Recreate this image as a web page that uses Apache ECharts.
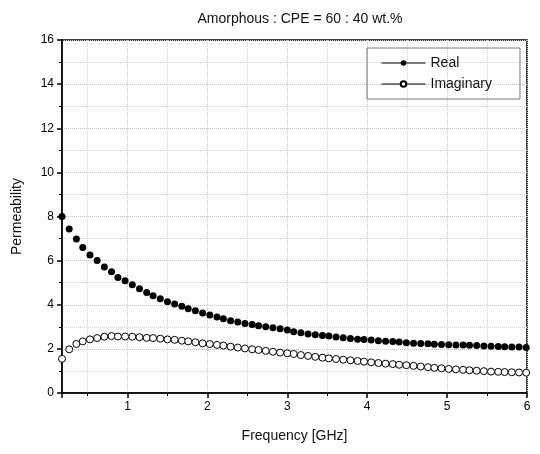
<!DOCTYPE html>
<html>
<head>
<meta charset="utf-8">
<script src="https://cdn.jsdelivr.net/npm/echarts@6/dist/echarts.min.js"></script>
<style>
    html, body { margin: 0; padding: 0; background: #fff; }
    #chart { width: 540px; height: 454px; }
</style>
</head>
<body>
<div id="chart"></div>
<script>
// frequency points in GHz
var freq = [0.18, 0.27, 0.36, 0.44, 0.53, 0.62, 0.71, 0.80, 0.88, 0.97,
    1.06, 1.15, 1.24, 1.32, 1.41, 1.50, 1.59, 1.68, 1.76, 1.85,
    1.94, 2.03, 2.12, 2.20, 2.29, 2.38, 2.47, 2.56, 2.64, 2.73,
    2.82, 2.91, 3.00, 3.08, 3.17, 3.26, 3.35, 3.44, 3.52, 3.61,
    3.70, 3.79, 3.88, 3.96, 4.05, 4.14, 4.23, 4.32, 4.40, 4.49,
    4.58, 4.67, 4.76, 4.84, 4.93, 5.02, 5.11, 5.20, 5.28, 5.37,
    5.46, 5.55, 5.64, 5.72, 5.81, 5.90, 5.99];

var realPart = [8.00, 7.43, 6.98, 6.59, 6.26, 6.01, 5.71, 5.50, 5.23, 5.09,
    4.91, 4.73, 4.55, 4.41, 4.27, 4.14, 4.03, 3.93, 3.82, 3.73,
    3.63, 3.54, 3.45, 3.37, 3.28, 3.22, 3.15, 3.10, 3.05, 3.00,
    2.96, 2.91, 2.86, 2.78, 2.73, 2.67, 2.64, 2.61, 2.58, 2.54,
    2.50, 2.47, 2.44, 2.42, 2.40, 2.37, 2.35, 2.33, 2.31, 2.28,
    2.26, 2.24, 2.23, 2.21, 2.20, 2.19, 2.18, 2.17, 2.16, 2.15,
    2.13, 2.12, 2.11, 2.10, 2.09, 2.08, 2.06];

var imagPart = [1.55, 1.98, 2.22, 2.34, 2.43, 2.49, 2.55, 2.58, 2.56, 2.56,
    2.55, 2.53, 2.50, 2.49, 2.46, 2.43, 2.41, 2.37, 2.34, 2.30,
    2.25, 2.22, 2.18, 2.15, 2.10, 2.06, 2.02, 1.98, 1.95, 1.91,
    1.87, 1.83, 1.80, 1.77, 1.72, 1.68, 1.64, 1.60, 1.57, 1.54,
    1.51, 1.48, 1.45, 1.42, 1.39, 1.36, 1.33, 1.31, 1.28, 1.26,
    1.23, 1.20, 1.17, 1.14, 1.12, 1.09, 1.07, 1.05, 1.03, 1.01,
    0.99, 0.97, 0.96, 0.95, 0.94, 0.93, 0.92];

var seriesNames = ['Real', 'Imaginary'];

var realData = freq.map(function (f, i) { return [f, realPart[i]]; });
var imagData = freq.map(function (f, i) { return [f, imagPart[i]]; });

var font = 'Liberation Sans, Arial, sans-serif';
var myChart = echarts.init(document.getElementById('chart'), null, { renderer: 'canvas' });

var option = {
    animation: false,
    backgroundColor: '#fff',
    title: {
        text: 'Amorphous : CPE = 60 : 40 wt.%',
        left: 295,
        textAlign: 'center',
        top: 7,
        textStyle: { fontFamily: font, fontSize: 14, fontWeight: 'normal', color: '#111' }
    },
    grid: {
        left: 62, right: 13, top: 40, bottom: 61,
        show: true, borderColor: '#000', borderWidth: 1.5
    },
    legend: {
        orient: 'vertical',
        left: 367, top: 48,
        padding: [8, 28, 8, 14],
        itemWidth: 44, itemHeight: 7, itemGap: 7,
        borderColor: '#777', borderWidth: 1,
        textStyle: { fontFamily: font, fontSize: 14, color: '#111' },
        data: [
            { name: seriesNames[0], lineStyle: { width: 1, color: '#000', opacity: 1 } },
            { name: seriesNames[1], lineStyle: { width: 1, color: '#000', opacity: 1 } }
        ]
    },
    xAxis: {
        type: 'value',
        min: 0.18, max: 6,
        splitNumber: 6,
        name: 'Frequency [GHz]',
        nameLocation: 'middle',
        nameGap: 36,
        nameTextStyle: { fontFamily: font, fontSize: 14, color: '#111' },
        axisLine: { lineStyle: { color: '#000', width: 1.5 } },
        axisTick: { length: 5, lineStyle: { color: '#000', width: 1.5 } },
        minorTick: { show: true, splitNumber: 2, length: 3, lineStyle: { color: '#000' } },
        axisLabel: {
            showMinLabel: false,
            fontFamily: font, fontSize: 12, color: '#000', margin: 8,
            formatter: function (v) { return Number.isInteger(v) ? String(v) : ''; }
        },
        splitLine: { show: true, lineStyle: { color: '#c4c4c4', type: 'dotted', width: 1 } },
        minorSplitLine: { show: true, lineStyle: { color: '#d4d4d4', type: 'dotted', width: 1 } }
    },
    yAxis: {
        type: 'value',
        min: 0, max: 16, interval: 2,
        name: 'Permeability',
        nameLocation: 'middle',
        nameGap: 38,
        nameTextStyle: { fontFamily: font, fontSize: 14, color: '#111' },
        axisLine: { show: true, lineStyle: { color: '#000', width: 1.5 } },
        axisTick: { show: true, length: 5, lineStyle: { color: '#000', width: 1.5 } },
        minorTick: { show: true, splitNumber: 2, length: 3, lineStyle: { color: '#000' } },
        axisLabel: { fontFamily: font, fontSize: 12, color: '#000', margin: 8 },
        splitLine: { show: true, lineStyle: { color: '#c4c4c4', type: 'dotted', width: 1 } },
        minorSplitLine: { show: true, lineStyle: { color: '#d4d4d4', type: 'dotted', width: 1 } }
    },
    series: [
        {
            name: seriesNames[0],
            type: 'line',
            data: realData,
            symbol: 'circle',
            symbolSize: 7,
            itemStyle: { color: '#000', borderColor: '#000', borderWidth: 0 },
            lineStyle: { width: 0, color: '#000' }
        },
        {
            name: seriesNames[1],
            type: 'line',
            data: imagData,
            symbol: 'circle',
            symbolSize: 7,
            itemStyle: { color: '#fff', borderColor: '#000', borderWidth: 1 },
            lineStyle: { width: 0, color: '#000' }
        }
    ]
};

myChart.setOption(option);
window.addEventListener('resize', myChart.resize);
</script>
</body>
</html>
